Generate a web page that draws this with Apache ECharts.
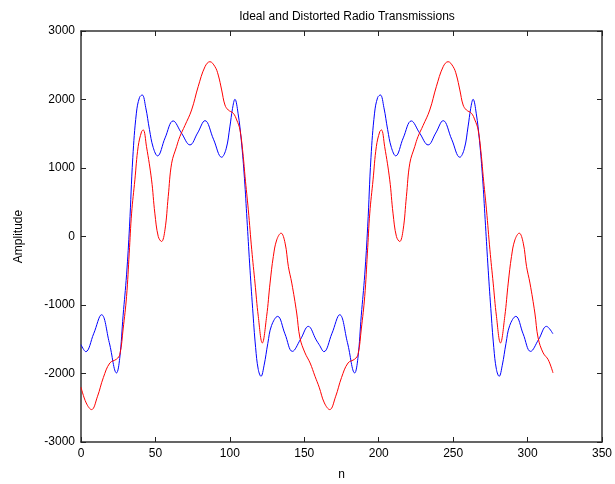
<!DOCTYPE html>
<html>
<head>
<meta charset="utf-8">
<script src="https://cdn.jsdelivr.net/npm/echarts@6/dist/echarts.min.js"></script>
<style>
html,body{margin:0;padding:0;background:#fff;}
#c{width:615px;height:484px;}
</style>
</head>
<body>
<div id="c"></div>
<script>
var xTicks = [0, 50, 100, 150, 200, 250, 300, 350];
var yTicks = [-3000, -2000, -1000, 0, 1000, 2000, 3000];

var blueN = [0, 3.2, 8.5, 13.8, 19, 23.9, 26, 28.3, 30.6, 32.6, 34.8, 37.2, 39.3, 41.1, 43.5, 46, 48.5, 51.4, 56.5, 61.9, 67.5, 73.2, 78.3, 83.3, 89, 94.5, 97.5, 100, 101.8, 103.4, 105.5, 107.7, 109.8, 111.5, 113.3, 115.3, 117.3, 119.1, 120.9, 123, 125.5, 128, 132.1, 137, 142, 147.5, 152.7, 158,
  160, 163.2, 168.5, 173.8, 179, 183.9, 186, 188.3, 190.6, 192.6, 194.8, 197.2, 199.3, 201.1, 203.5, 206, 208.5, 211.4, 216.5, 221.9, 227.5, 233.2, 238.3, 243.3, 249, 254.5, 257.5, 260, 261.8, 263.4, 265.5, 267.7, 269.8, 271.5, 273.3, 275.3, 277.3, 279.1, 280.9, 283, 285.5, 288, 292.1, 297, 302, 307.5, 312.7, 317];
var blueV = [-1579, -1681, -1420, -1142, -1550, -1992, -1780, -1150, -560, 150, 1150, 1800, 2030, 2066, 1880, 1560, 1300, 1177, 1440, 1687, 1510, 1337, 1510, 1691, 1420, 1157, 1280, 1600, 1870, 2003, 1800, 1400, 850, 250, -400, -1050, -1620, -1943, -2041, -1880, -1560, -1300, -1166, -1420, -1677, -1500, -1312, -1510,
  -1579, -1681, -1420, -1142, -1550, -1992, -1780, -1150, -560, 150, 1150, 1800, 2030, 2066, 1880, 1560, 1300, 1177, 1440, 1687, 1510, 1337, 1510, 1691, 1420, 1157, 1280, 1600, 1870, 2003, 1800, 1400, 850, 250, -400, -1050, -1620, -1943, -2041, -1880, -1560, -1300, -1166, -1420, -1677, -1500, -1312, -1420];

var redN = [0, 3.5, 7.1, 11, 15, 19.4, 23.9, 26.1, 28.3, 30.6, 32.4, 34, 36.2, 38.4, 40.7, 41.8, 44, 47.4, 49.6, 51.9, 54.1, 56.4, 58.6, 60.9, 64.2, 66.4, 69.8, 74.3, 78.7, 83.3, 86.6, 90, 92.2, 94.5, 96.7, 98.9, 102.3, 104.6, 106.8, 109, 110.2, 112.4, 114.7, 116.9, 119.1, 121.8, 124.7, 127, 129.2, 131.5, 134.4, 137.1, 139.3, 141.6, 144.9, 147.1, 150.5, 153.9, 157.2,
  160, 163.5, 167.1, 171, 175, 179.4, 183.9, 186.1, 188.3, 190.6, 192.4, 194, 196.2, 198.4, 200.7, 201.8, 204, 207.4, 209.6, 211.9, 214.1, 216.4, 218.6, 220.9, 224.2, 226.4, 229.8, 234.3, 238.7, 243.3, 246.6, 250, 252.2, 254.5, 256.7, 258.9, 262.3, 264.6, 266.8, 269, 270.2, 272.4, 274.7, 276.9, 279.1, 281.8, 284.7, 287, 289.2, 291.5, 294.4, 297.1, 299.3, 301.6, 304.9, 307.1, 310.5, 313.9, 317.1];
var redV = [-2200, -2430, -2527, -2340, -2060, -1846, -1790, -1720, -1350, -875, -243, 341, 827, 1312, 1531, 1556, 1312, 827, 341, 0, -73, 97, 583, 1070, 1312, 1458, 1620, 1847, 2187, 2479, 2552, 2479, 2357, 2139, 1920, 1847, 1799, 1701, 1556, 1166, 875, 389, -194, -680, -1166, -1554, -1166, -680, -292, -49, 49, -97, -437, -680, -1117, -1482, -1700, -1846, -2041,
  -2200, -2430, -2527, -2340, -2060, -1846, -1790, -1720, -1350, -875, -243, 341, 827, 1312, 1531, 1556, 1312, 827, 341, 0, -73, 97, 583, 1070, 1312, 1458, 1620, 1847, 2187, 2479, 2552, 2479, 2357, 2139, 1920, 1847, 1799, 1701, 1556, 1166, 875, 389, -194, -680, -1166, -1554, -1166, -680, -292, -49, 49, -97, -437, -680, -1117, -1482, -1700, -1800, -1992];

function pairs(a, b) { return a.map(function (v, i) { return [v, b[i]]; }); }

var font = 'Liberation Sans, Arial, sans-serif';
var chart = echarts.init(document.getElementById('c'));
var plain = function (v) { return String(v); };
function tick() { return { show: true, inside: true, length: 5, lineStyle: { color: '#222', width: 1 } }; }
function axLine() { return { show: true, onZero: false, lineStyle: { color: '#333', width: 1.5 } }; }
function hiddenSplit() { return { show: true, lineStyle: { color: 'rgba(255,255,255,0)', width: 1 } }; }
function ghostLabel() { return { show: true, inside: true, color: 'rgba(255,255,255,0)', fontSize: 8, formatter: plain }; }
chart.setOption({
  animation: false,
  title: {
    text: 'Ideal and Distorted Radio Transmissions',
    left: 342, top: 6, textAlign: 'center',
    textStyle: { fontFamily: font, fontSize: 12, fontWeight: 'normal', color: '#000' }
  },
  grid: { left: 81, right: 13, top: 31, bottom: 42, outerBoundsMode: 'none' },
  xAxis: [{
    type: 'value', min: xTicks[0], max: xTicks[xTicks.length - 1], interval: 50,
    name: 'n', nameLocation: 'middle', nameGap: 27,
    nameTextStyle: { fontFamily: font, fontSize: 12, color: '#000' },
    axisLine: axLine(), axisTick: tick(), splitLine: hiddenSplit(),
    axisLabel: { fontFamily: font, fontSize: 12, color: '#000', margin: 6, formatter: plain }
  }, {
    type: 'value', position: 'top', min: xTicks[0], max: xTicks[xTicks.length - 1], interval: 50,
    axisLine: axLine(), axisTick: tick(), splitLine: hiddenSplit(), axisLabel: ghostLabel()
  }],
  yAxis: [{
    type: 'value', min: yTicks[0], max: yTicks[yTicks.length - 1], interval: 1000,
    name: 'Amplitude', nameLocation: 'middle', nameGap: 56, nameRotate: 90,
    nameTextStyle: { fontFamily: font, fontSize: 12, color: '#000' },
    axisLine: axLine(), axisTick: tick(), splitLine: hiddenSplit(),
    axisLabel: { fontFamily: font, fontSize: 12, color: '#000', margin: 6, formatter: plain }
  }, {
    type: 'value', position: 'right', min: yTicks[0], max: yTicks[yTicks.length - 1], interval: 1000,
    axisLine: axLine(), axisTick: tick(), splitLine: hiddenSplit(), axisLabel: ghostLabel()
  }],
  series: [{
    type: 'line', name: 'Ideal', data: pairs(blueN, blueV), showSymbol: false, smooth: 0.4,
    lineStyle: { color: '#0000ff', width: 1 }, itemStyle: { color: '#0000ff' }
  }, {
    type: 'line', name: 'Distorted', data: pairs(redN, redV), showSymbol: false, smooth: 0.4,
    lineStyle: { color: '#ff0000', width: 1 }, itemStyle: { color: '#ff0000' }
  }]
});
</script>
</body>
</html>
